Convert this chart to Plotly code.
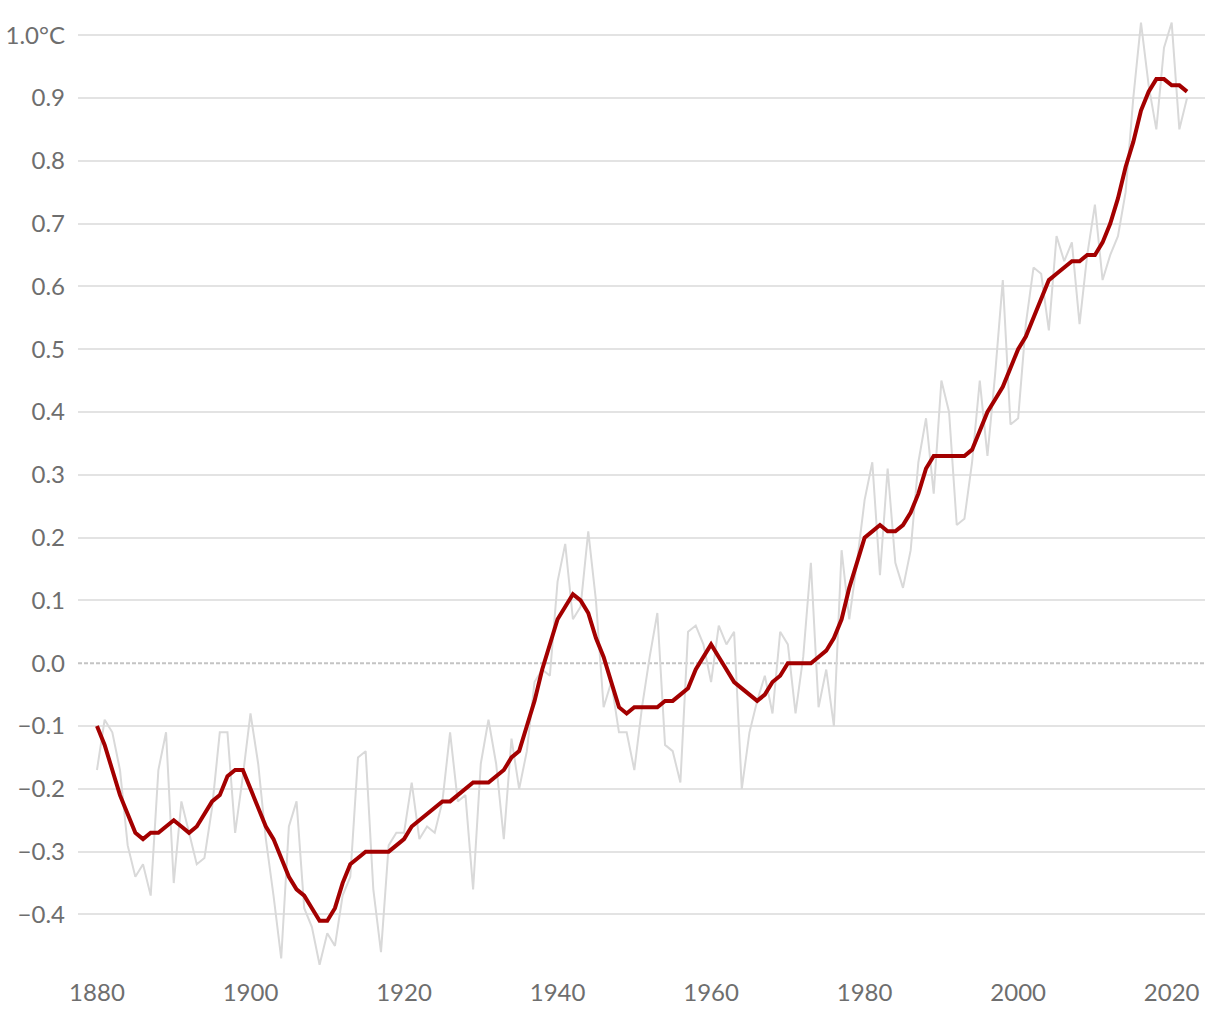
import plotly.graph_objects as go

years = list(range(1880, 2023))

annual_mean = [
    -0.17, -0.09, -0.11, -0.17, -0.29, -0.34, -0.32, -0.37, -0.17, -0.11,  # 1880s
    -0.35, -0.22, -0.27, -0.32, -0.31, -0.23, -0.11, -0.11, -0.27, -0.18,  # 1890s
    -0.08, -0.16, -0.28, -0.37, -0.47, -0.26, -0.22, -0.39, -0.42, -0.48,  # 1900s
    -0.43, -0.45, -0.37, -0.34, -0.15, -0.14, -0.36, -0.46, -0.29, -0.27,  # 1910s
    -0.27, -0.19, -0.28, -0.26, -0.27, -0.22, -0.11, -0.22, -0.21, -0.36,  # 1920s
    -0.16, -0.09, -0.16, -0.28, -0.12, -0.20, -0.14, -0.03, -0.01, -0.02,  # 1930s
    0.13, 0.19, 0.07, 0.09, 0.21, 0.10, -0.07, -0.03, -0.11, -0.11,        # 1940s
    -0.17, -0.07, 0.01, 0.08, -0.13, -0.14, -0.19, 0.05, 0.06, 0.03,       # 1950s
    -0.03, 0.06, 0.03, 0.05, -0.20, -0.11, -0.06, -0.02, -0.08, 0.05,      # 1960s
    0.03, -0.08, 0.01, 0.16, -0.07, -0.01, -0.10, 0.18, 0.07, 0.16,        # 1970s
    0.26, 0.32, 0.14, 0.31, 0.16, 0.12, 0.18, 0.32, 0.39, 0.27,            # 1980s
    0.45, 0.40, 0.22, 0.23, 0.32, 0.45, 0.33, 0.46, 0.61, 0.38,            # 1990s
    0.39, 0.54, 0.63, 0.62, 0.53, 0.68, 0.64, 0.67, 0.54, 0.65,            # 2000s
    0.73, 0.61, 0.65, 0.68, 0.75, 0.90, 1.02, 0.92, 0.85, 0.98,            # 2010s
    1.02, 0.85, 0.90,                                                      # 2020s
]

smoothed = [
    -0.10, -0.13, -0.17, -0.21, -0.24, -0.27, -0.28, -0.27, -0.27, -0.26,
    -0.25, -0.26, -0.27, -0.26, -0.24, -0.22, -0.21, -0.18, -0.17, -0.17,
    -0.20, -0.23, -0.26, -0.28, -0.31, -0.34, -0.36, -0.37, -0.39, -0.41,
    -0.41, -0.39, -0.35, -0.32, -0.31, -0.30, -0.30, -0.30, -0.30, -0.29,
    -0.28, -0.26, -0.25, -0.24, -0.23, -0.22, -0.22, -0.21, -0.20, -0.19,
    -0.19, -0.19, -0.18, -0.17, -0.15, -0.14, -0.10, -0.06, -0.01, 0.03,
    0.07, 0.09, 0.11, 0.10, 0.08, 0.04, 0.01, -0.03, -0.07, -0.08,
    -0.07, -0.07, -0.07, -0.07, -0.06, -0.06, -0.05, -0.04, -0.01, 0.01,
    0.03, 0.01, -0.01, -0.03, -0.04, -0.05, -0.06, -0.05, -0.03, -0.02,
    0.00, 0.00, 0.00, 0.00, 0.01, 0.02, 0.04, 0.07, 0.12, 0.16,
    0.20, 0.21, 0.22, 0.21, 0.21, 0.22, 0.24, 0.27, 0.31, 0.33,
    0.33, 0.33, 0.33, 0.33, 0.34, 0.37, 0.40, 0.42, 0.44, 0.47,
    0.50, 0.52, 0.55, 0.58, 0.61, 0.62, 0.63, 0.64, 0.64, 0.65,
    0.65, 0.67, 0.70, 0.74, 0.79, 0.83, 0.88, 0.91, 0.93, 0.93,
    0.92, 0.92, 0.91,
]

y_tick_vals = [-0.4, -0.3, -0.2, -0.1, 0.0, 0.1, 0.2, 0.3, 0.4, 0.5, 0.6, 0.7, 0.8, 0.9, 1.0]
y_tick_text = ["\u22120.4", "\u22120.3", "\u22120.2", "\u22120.1", "0.0", "0.1", "0.2", "0.3",
               "0.4", "0.5", "0.6", "0.7", "0.8", "0.9", "1.0°C"]
x_tick_vals = [1880, 1900, 1920, 1940, 1960, 1980, 2000, 2020]
x_range = [1877.53, 2024.34]
y_range = [-0.49, 1.04]
zero_level = 0.0

fig = go.Figure()
# zero reference line (dashed), drawn under the data lines
fig.add_trace(go.Scatter(
    x=x_range, y=[zero_level, zero_level], mode="lines",
    line=dict(color="#ffffff", width=2.5),
    hoverinfo="skip", showlegend=False,
))
fig.add_trace(go.Scatter(
    x=x_range, y=[zero_level, zero_level], mode="lines",
    line=dict(color="#c4c4c4", width=2, dash="4px,2px"),
    hoverinfo="skip", showlegend=False,
))
fig.add_trace(go.Scatter(
    x=years, y=annual_mean, mode="lines",
    line=dict(color="#d9d9d9", width=2),
    hoverinfo="skip", showlegend=False,
))
fig.add_trace(go.Scatter(
    x=years, y=smoothed, mode="lines",
    line=dict(color="#a30000", width=4),
    showlegend=False,
))

font_family = "Lato, 'Open Sans', sans-serif"
fig.update_layout(
    width=1220, height=1020,
    margin=dict(l=78, r=15, t=10, b=49),
    paper_bgcolor="white", plot_bgcolor="white",
    font=dict(family=font_family, size=24, color="#6e6e6e"),
    xaxis=dict(
        range=x_range,
        tickvals=x_tick_vals,
        showgrid=False, zeroline=False, showline=False,
        ticks="", ticklabelstandoff=5, automargin=False,
    ),
    yaxis=dict(
        range=y_range,
        tickvals=y_tick_vals, ticktext=y_tick_text,
        showgrid=True, gridcolor="#e3e3e3", gridwidth=1.6,
        zeroline=False, showline=False,
        ticks="", ticklabelstandoff=12, automargin=False,
    ),
)

fig.write_html("out.html")
